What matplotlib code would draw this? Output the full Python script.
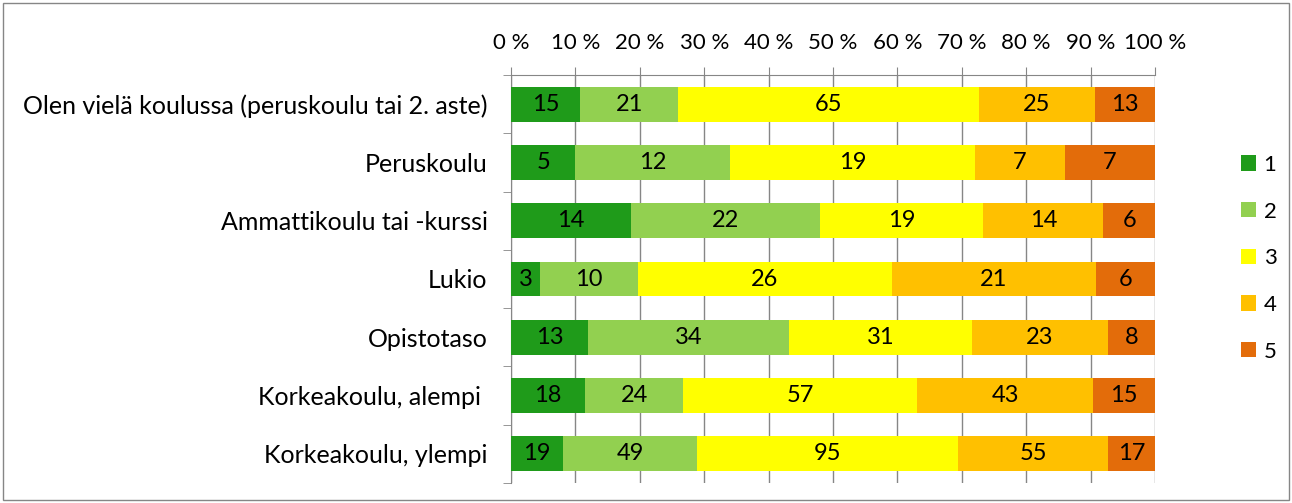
import numpy as np
import matplotlib.pyplot as plt
from matplotlib.patches import Rectangle
from matplotlib.ticker import FixedLocator

# ── Data ─────────────────────────────────────────────────────────────────────
categories = [
    "Olen vielä koulussa (peruskoulu tai 2. aste)",
    "Peruskoulu",
    "Ammattikoulu tai -kurssi",
    "Lukio",
    "Opistotaso",
    "Korkeakoulu, alempi ",
    "Korkeakoulu, ylempi",
]
series_names = ["1", "2", "3", "4", "5"]
s1 = [15, 5, 14, 3, 13, 18, 19]
s2 = [21, 12, 22, 10, 34, 24, 49]
s3 = [65, 19, 19, 26, 31, 57, 95]
s4 = [25, 7, 14, 21, 23, 43, 55]
s5 = [13, 7, 6, 6, 8, 15, 17]
tick_labels = ["0 %", "10 %", "20 %", "30 %", "40 %", "50 %",
               "60 %", "70 %", "80 %", "90 %", "100 %"]

colors = ["#1f9b1a", "#92d050", "#ffff00", "#ffc000", "#e36c0a"]

# ── Plot ─────────────────────────────────────────────────────────────────────
plt.rcParams["font.family"] = ["Lato", "DejaVu Sans"]

counts = np.array([s1, s2, s3, s4, s5], dtype=float)
shares = counts / counts.sum(axis=0)   # 100 % stacked: share of each row

W, H = 1292, 503
fig = plt.figure(figsize=(W / 100, H / 100), dpi=100)
fig.patches.append(Rectangle((3 / W, 3 / H), 1 - 6 / W, 1 - 6 / H,
                             transform=fig.transFigure, fill=False,
                             edgecolor="#868686", lw=1))

ax = fig.add_axes([511 / W, 1 - 483 / H, (1155 - 511) / W, (483 - 75) / H])
y = np.arange(len(categories))
left = np.zeros(len(categories))
for name, vals, share, col in zip(series_names, counts, shares, colors):
    ax.barh(y, share, left=left, height=0.6, color=col, label=name, zorder=3)
    for yi, l, s, v in zip(y, left, share, vals):
        ax.text(l + s / 2, yi, f"{int(v)}", ha="center", va="center",
                fontsize=17, zorder=4)
    left += share

ax.set_xlim(0, 1)
ax.set_ylim(len(categories) - 0.5, -0.5)
ax.xaxis.tick_top()
ax.set_xticks(np.linspace(0, 1, 11))
ax.set_xticklabels(tick_labels, fontsize=16)
ax.tick_params(axis="x", length=6, color="#868686", pad=10)
ax.grid(axis="x", color="#868686", lw=1, zorder=0)

ax.set_yticks(y)
ax.set_yticklabels(categories, fontsize=18)
ax.tick_params(axis="y", length=0, pad=17)
ax.yaxis.set_minor_locator(FixedLocator(np.arange(-0.5, len(categories), 1)))
ax.tick_params(axis="y", which="minor", length=6, color="#868686")

for side in ["right", "bottom"]:
    ax.spines[side].set_visible(False)
for side in ["top", "left"]:
    ax.spines[side].set_color("#868686")

ax.legend(loc="center left", bbox_to_anchor=(1.102, 0.551), frameon=False,
          fontsize=16, handlelength=0.68, handleheight=0.68, labelspacing=1.2,
          handletextpad=0.35)

fig.savefig("out.png", dpi=100)
